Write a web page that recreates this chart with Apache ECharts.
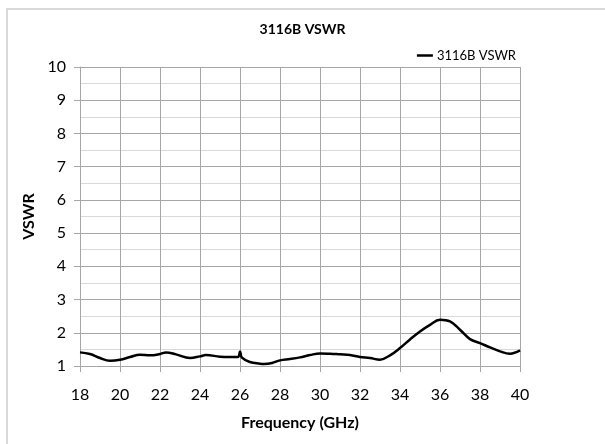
<!DOCTYPE html>
<html><head><meta charset="utf-8">
<script src="https://cdn.jsdelivr.net/npm/echarts@6/dist/echarts.min.js"></script>
<style>html,body{margin:0;padding:0;background:#fff}#c{width:605px;height:444px}</style>
</head><body><div id="c"></div>
<script>
const freq = [18, 18.5, 19, 19.5, 20, 20.5, 21, 21.5, 22, 22.3, 22.8, 23.5, 24, 24.3, 25, 25.5, 25.9, 26, 26.1, 26.5, 27, 27.2, 27.6, 28, 28.5, 29, 29.5, 30, 30.5, 31, 31.5, 32, 32.5, 33, 33.5, 34, 34.5, 35, 35.5, 36, 36.5, 37, 37.5, 38, 38.5, 39, 39.5, 40];
const vswr = [1.41, 1.36, 1.24, 1.16, 1.19, 1.27, 1.34, 1.32, 1.36, 1.41, 1.35, 1.24, 1.29, 1.33, 1.28, 1.27, 1.27, 1.44, 1.25, 1.12, 1.07, 1.06, 1.09, 1.17, 1.21, 1.26, 1.33, 1.38, 1.37, 1.35, 1.33, 1.27, 1.24, 1.19, 1.32, 1.54, 1.80, 2.04, 2.24, 2.39, 2.34, 2.09, 1.81, 1.69, 1.56, 1.44, 1.37, 1.47];
const xTicks = [18, 20, 22, 24, 26, 28, 30, 32, 34, 36, 38, 40];
const yTicks = [1, 2, 3, 4, 5, 6, 7, 8, 9, 10];
const seriesName = '3116B VSWR';
const chartTitle = '3116B VSWR';
const xName = 'Frequency (GHz)';
const yName = 'VSWR';

const F = 'Lato, "Open Sans", sans-serif';
const chart = echarts.init(document.getElementById('c'), null, {renderer: 'canvas'});
chart.setOption({
  animation: false,
  backgroundColor: '#fff',
  graphic: [{type: 'rect', shape: {x: 7, y: 9, width: 700, height: 600}, style: {fill: 'none', stroke: '#d9d9d9', lineWidth: 2}, silent: true}],
  title: {text: chartTitle, left: 'center', top: 17, textStyle: {fontFamily: F, fontSize: 14, fontWeight: 'bold', color: '#000'}},
  legend: {right: 84, top: 44, icon: 'path://M0,0 H16 V2.5 H0 Z', itemWidth: 16, itemHeight: 2.5, itemGap: 2,
    textStyle: {fontFamily: F, fontSize: 13, color: '#000', padding: [0, 0, 0, -1]}, data: [seriesName]},
  grid: {left: 80, right: 85, top: 67, bottom: 78, containLabel: false},
  xAxis: {type: 'value', min: xTicks[0], max: xTicks[xTicks.length - 1], interval: 2,
    name: xName, nameLocation: 'middle', nameGap: 49,
    nameTextStyle: {fontFamily: F, fontSize: 16, fontWeight: 'bold', color: '#000'},
    axisLine: {show: true, lineStyle: {color: '#a6a6a6', width: 1}},
    axisTick: {show: true, length: 6, lineStyle: {color: '#a6a6a6'}},
    axisLabel: {fontFamily: F, fontSize: 16, color: '#000', margin: 21},
    splitLine: {show: true, lineStyle: {color: '#a6a6a6', width: 1}}},
  yAxis: {type: 'value', min: yTicks[0], max: yTicks[yTicks.length - 1], interval: 1,
    name: yName, nameLocation: 'middle', nameGap: 43, nameRotate: 90,
    nameTextStyle: {fontFamily: F, fontSize: 16, fontWeight: 'bold', color: '#000'},
    axisLine: {show: true, lineStyle: {color: '#a6a6a6', width: 1}},
    axisTick: {show: true, length: 6, lineStyle: {color: '#a6a6a6'}},
    axisLabel: {fontFamily: F, fontSize: 16, color: '#000', margin: 14},
    splitLine: {show: true, lineStyle: {color: '#a6a6a6', width: 1}},
    minorTick: {show: false, splitNumber: 2},
    minorSplitLine: {show: true, lineStyle: {color: '#d9d9d9', width: 1}}},
  series: [{name: seriesName, type: 'line', smooth: 0.4, symbol: 'none',
    lineStyle: {color: '#000', width: 2.5}, itemStyle: {color: '#000'},
    data: freq.map((f, i) => [f, vswr[i]])}]
});
</script></body></html>
